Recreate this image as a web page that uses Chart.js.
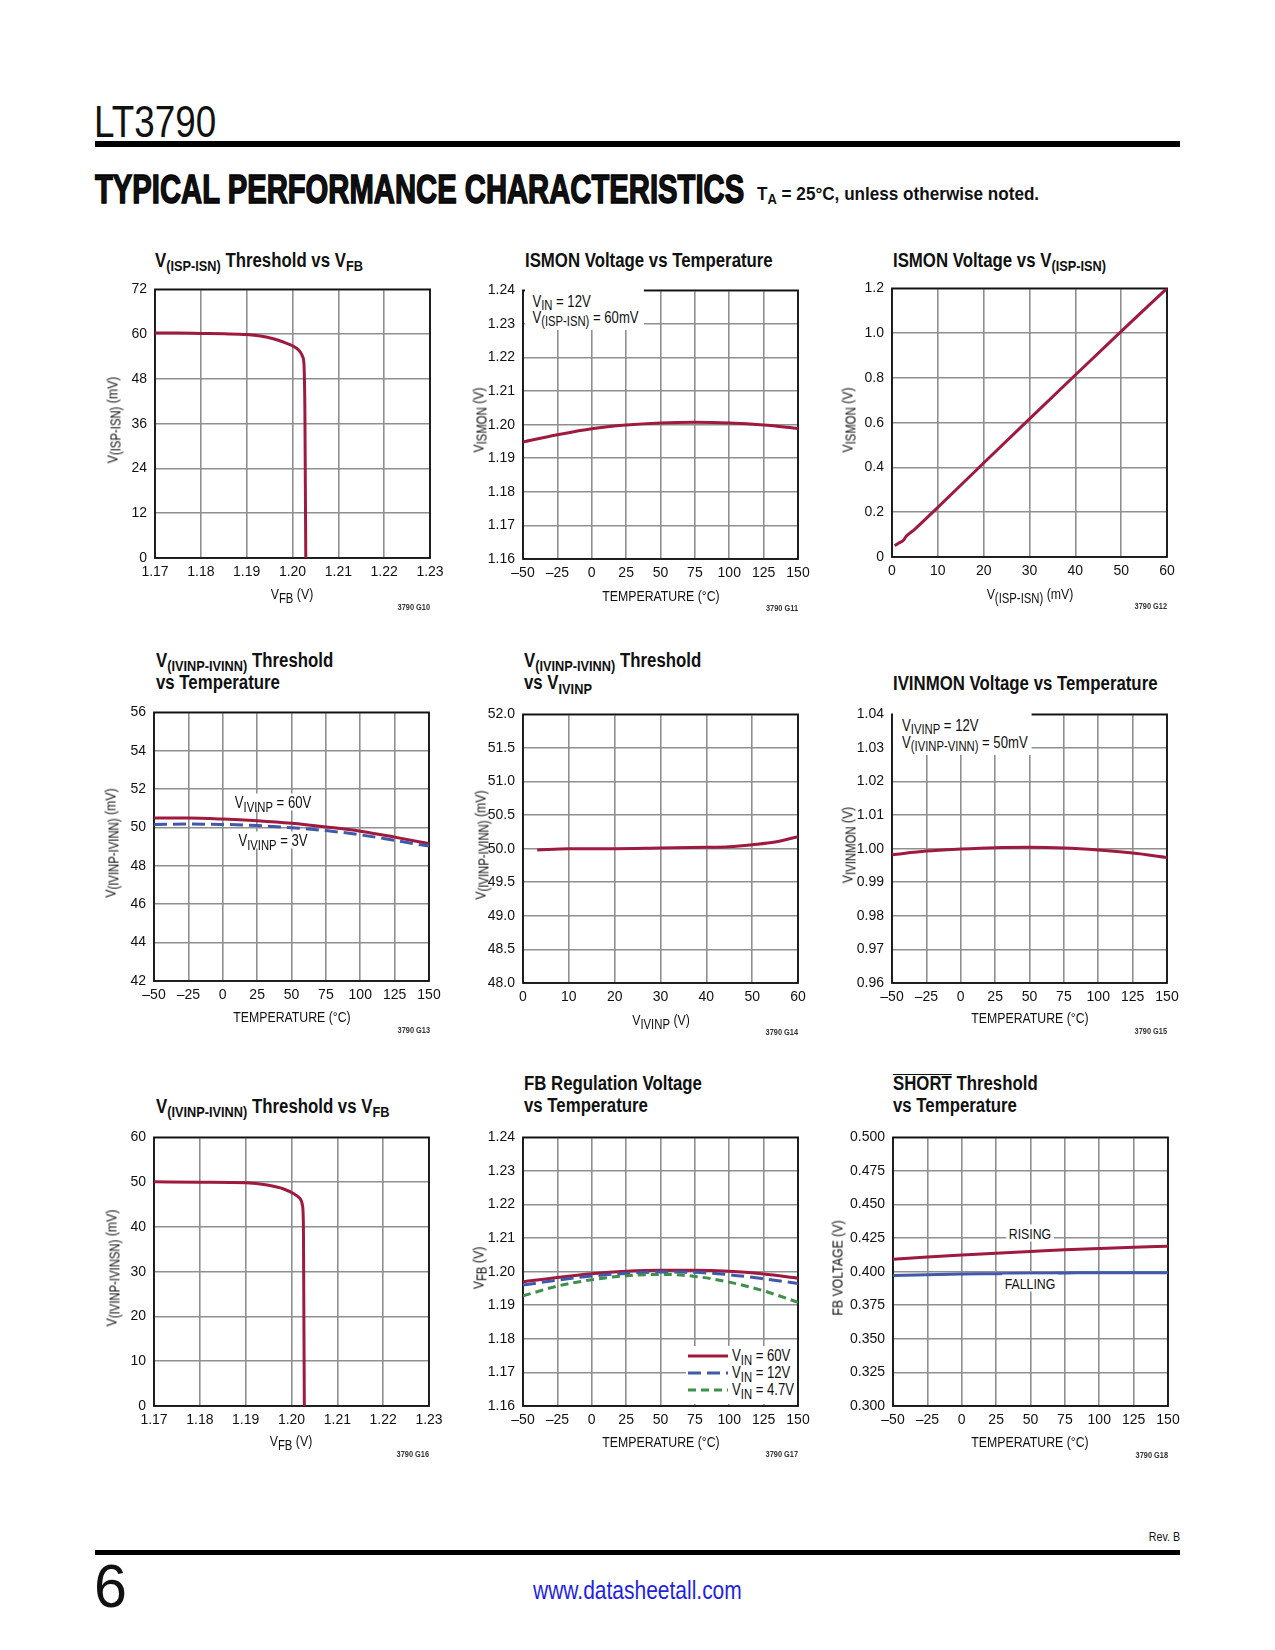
<!DOCTYPE html>
<html><head><meta charset="utf-8">
<script src="https://cdn.jsdelivr.net/npm/chart.js@4.4.1/dist/chart.umd.min.js"></script>
<style>
body{margin:0;background:#fff;}
#page{position:relative;width:1275px;height:1650px;overflow:hidden;font-family:'Liberation Sans',Arial,sans-serif;color:#111;}
.abs{position:absolute;white-space:nowrap;}
canvas{position:absolute;}
sub{font-size:0.76em;vertical-align:baseline;position:relative;top:0.3em;line-height:0;}
.ax sub{font-size:0.92em;top:0.25em;}
.ann sub{font-size:0.86em;top:0.28em;}
.bar{position:absolute;background:#000;}
.wbg{background:#fff;z-index:5;}
.ovl{display:inline-block;border-top:1.6px solid #111;line-height:17px;}
</style></head>
<body><div id="page"></div>
<script>
// ---------------- DATA ----------------
const tempC = [-50,-25,0,25,50,75,100,125,150];
const tempTickLabels = ['\u201350','\u201325','0','25','50','75','100','125','150'];

const vfbTicks = [1.17,1.18,1.19,1.20,1.21,1.22,1.23];
const vfbTickLabels = ['1.17','1.18','1.19','1.20','1.21','1.22','1.23'];

// G10: V(ISP-ISN) threshold vs VFB
const g10Vfb = [1.170,1.175,1.180,1.185,1.190,1.193,1.196,1.198,1.200,1.201,1.2017,1.2022,1.2025,1.2026,1.2027,1.2028,1.2029];
const g10mV  = [60.3,60.3,60.2,60.1,59.9,59.5,58.7,57.9,56.9,56.1,55.2,54.0,52.0,48.0,40.0,20.0,0];
const g10YTicks = [0,12,24,36,48,60,72];
const g10YLabels = ['0','12','24','36','48','60','72'];

// G11: ISMON voltage vs temperature
const g11Vismon = [1.1949,1.1970,1.1988,1.1999,1.2005,1.2007,1.2005,1.1999,1.1989];
const g11YTicks = [1.16,1.17,1.18,1.19,1.20,1.21,1.22,1.23,1.24];
const g11YLabels = ['1.16','1.17','1.18','1.19','1.20','1.21','1.22','1.23','1.24'];

// G12: ISMON voltage vs V(ISP-ISN)
const g12mV = [0.6,1.5,2.5,3.0,3.5,5,10,20,30,40,50,60];
const g12V  = [0.05,0.063,0.075,0.09,0.10,0.125,0.222,0.42,0.617,0.813,1.008,1.2];
const g12XTicks = [0,10,20,30,40,50,60];
const g12XLabels = ['0','10','20','30','40','50','60'];
const g12YTicks = [0,0.2,0.4,0.6,0.8,1.0,1.2];
const g12YLabels = ['0','0.2','0.4','0.6','0.8','1.0','1.2'];

// G13: V(IVINP-IVINN) threshold vs temperature
const g13V60 = [50.49,50.49,50.44,50.35,50.22,50.03,49.81,49.50,49.16];
const g13V3  = [50.16,50.18,50.16,50.10,49.99,49.84,49.62,49.33,49.03];
const g13YTicks = [42,44,46,48,50,52,54,56];
const g13YLabels = ['42','44','46','48','50','52','54','56'];

// G14: V(IVINP-IVINN) threshold vs VIVINP
const g14Vivinp = [3.1,10,20,30,40,45,50,55,60];
const g14mV     = [49.98,50.0,50.0,50.01,50.02,50.03,50.06,50.10,50.18];
const g14XTicks = [0,10,20,30,40,50,60];
const g14XLabels = ['0','10','20','30','40','50','60'];
const g14YTicks = [48,48.5,49,49.5,50,50.5,51,51.5,52];
const g14YLabels = ['48.0','48.5','49.0','49.5','50.0','50.5','51.0','51.5','52.0'];

// G15: IVINMON voltage vs temperature
const g15V = [0.9982,0.9993,0.9999,1.0003,1.0004,1.0002,0.9996,0.9987,0.9974];
const g15YTicks = [0.96,0.97,0.98,0.99,1.00,1.01,1.02,1.03,1.04];
const g15YLabels = ['0.96','0.97','0.98','0.99','1.00','1.01','1.02','1.03','1.04'];

// G16: V(IVINP-IVINN) threshold vs VFB
const g16Vfb = [1.170,1.180,1.190,1.1947,1.1983,1.2005,1.2019,1.2024,1.2026,1.2027,1.2028];
const g16mV  = [50.1,50.0,49.87,49.36,48.48,47.39,46.3,44.8,40,20,0];
const g16YTicks = [0,10,20,30,40,50,60];
const g16YLabels = ['0','10','20','30','40','50','60'];

// G17: FB regulation voltage vs temperature
const g17Vin60  = [1.1970,1.1983,1.1994,1.2001,1.2004,1.2004,1.2001,1.1993,1.1981];
const g17Vin12  = [1.1960,1.1975,1.1987,1.1995,1.1999,1.1998,1.1991,1.1979,1.1965];
const g17Vin4p7 = [1.1928,1.1957,1.1976,1.1988,1.1992,1.1986,1.1969,1.1943,1.1909];
const g17YTicks = g11YTicks;
const g17YLabels = g11YLabels;

// G18: SHORT threshold vs temperature
const g18Rising  = [0.4092,0.4109,0.4124,0.4138,0.4150,0.4163,0.4172,0.4182,0.4189];
const g18Falling = [0.3971,0.3978,0.3983,0.3985,0.3988,0.3990,0.3993,0.3993,0.3993];
const g18YTicks = [0.300,0.325,0.350,0.375,0.400,0.425,0.450,0.475,0.500];
const g18YLabels = ['0.300','0.325','0.350','0.375','0.400','0.425','0.450','0.475','0.500'];

// ---------------- STYLE ----------------
const FAM = "'Liberation Sans',Arial,sans-serif";
const RED = '#9e1a3f', BLUE = '#4159aa', GREEN = '#3f8f4a';
const GRID = '#8f8f8f';
const NARROW = 0.82;
const page = document.getElementById('page');

function text(html, left, baseline, size, opts={}){
  const lh = opts.lh || size;
  const d = document.createElement('div');
  d.className = 'abs' + (opts.cls ? ' '+opts.cls : '');
  d.innerHTML = html;
  d.style.fontSize = size+'px';
  d.style.lineHeight = lh+'px';
  d.style.fontWeight = opts.bold ? 'bold' : (opts.weight || 'normal');
  d.style.left = left+'px';
  d.style.top = (baseline - ((lh - 1.117*size)/2 + 0.905*size))+'px';
  if (opts.color) d.style.color = opts.color;
  const s = opts.scale || NARROW;
  let tf = '';
  if (opts.align === 'right'){ tf = 'translateX(-100%) '; d.style.transformOrigin = 'right center'; }
  else if (opts.align === 'center'){ tf = 'translateX(-50%) '; d.style.transformOrigin = 'center center'; }
  else d.style.transformOrigin = 'left center';
  d.style.transform = tf + 'scaleX(' + s + ')';
  if (opts.style) Object.assign(d.style, opts.style);
  page.appendChild(d);
  return d;
}
function fitW(d, w){
  d.style.transformOrigin = 'left center';
  d.style.transform = 'scaleX(' + (w / d.offsetWidth) + ')';
}
function ytitle(html, cx, cy, size){
  const d = document.createElement('div');
  d.className='abs ax';
  d.innerHTML = html;
  d.style.fontSize = size+'px';
  d.style.lineHeight = size+'px';
  d.style.left = cx+'px'; d.style.top = cy+'px';
  d.style.transform = 'translate(-50%,-50%) rotate(-90deg) scaleX(' + NARROW + ')';
  page.appendChild(d);
}
function box(html, left, top, styles, centered){
  const d = document.createElement('div');
  d.className = 'abs wbg ann';
  d.innerHTML = html;
  d.style.left = left+'px'; d.style.top = top+'px';
  if (centered){ d.style.transform = 'translate(-50%,-50%) scaleX(' + NARROW + ')'; }
  else { d.style.transformOrigin = 'left top'; d.style.transform = 'scaleX(' + NARROW + ')'; }
  Object.assign(d.style, styles||{});
  page.appendChild(d);
  return d;
}
function whiteRect(left, top, w, h){
  const d = document.createElement('div');
  d.className = 'abs wbg';
  Object.assign(d.style, {left:left+'px', top:top+'px', width:w+'px', height:h+'px'});
  page.appendChild(d);
}

const framePlugin = {
  id:'frame',
  beforeDatasetsDraw(c){
    const a = c.chartArea, g = c.ctx;
    g.save(); g.strokeStyle = '#111'; g.lineWidth = 1.8;
    g.strokeRect(a.left, a.top, a.right-a.left, a.bottom-a.top);
    g.restore();
  }
};

const PW = 275, PH = 275, LP = 60, TP = 10, RP = 24, BP = 32;
function axis(min, max, vals, labels, isX){
  return {
    type:'linear', min, max,
    afterBuildTicks: s => { s.ticks = vals.map(v => ({value:v})); },
    afterFit: s => { if (isX) s.height = BP; else s.width = LP; },
    grid:{color:GRID, lineWidth:1.6, drawTicks:false},
    border:{display:false},
    ticks:{autoSkip:false, maxRotation:0, padding: isX ? 6 : 8, color:'#111',
           font:{family:FAM, size:14}, callback:(v,i) => labels[i]}
  };
}
function ds(xs, ys, color, dash){
  return {data: xs.map((x,i) => ({x, y: ys[i]})), showLine:true, borderColor:color,
          borderWidth:3, pointRadius:0, borderDash: dash || [], fill:false,
          cubicInterpolationMode:'monotone'};
}
function chart(L, T, xAx, yAx, datasets){
  const cv = document.createElement('canvas');
  const w = LP + PW + RP, h = TP + PH + BP;
  cv.width = w; cv.height = h;
  cv.style.left = (L - LP)+'px'; cv.style.top = (T - TP)+'px';
  cv.style.width = w+'px'; cv.style.height = h+'px';
  page.appendChild(cv);
  new Chart(cv.getContext('2d'), {
    type:'scatter',
    data:{datasets},
    options:{
      responsive:false, animation:false, devicePixelRatio:1,
      layout:{padding:{left:0, top:TP, right:RP, bottom:0}},
      plugins:{legend:{display:false}, tooltip:{enabled:false}},
      scales:{x:xAx, y:yAx}
    },
    plugins:[framePlugin]
  });
}
function code(t, right, bottom){
  text(t, right, bottom+53, 9, {bold:true, align:'right', color:'#333'});
}
function title(html, left, baseline){
  text(html, left, baseline, 20, {bold:true, lh:22.5, scale:0.84});
}
function xtitle(html, cx, baseline){ text(html, cx, baseline, 15, {align:'center', cls:'ax'}); }

// ---------------- HEADER / FOOTER ----------------
const lt = text('LT3790', 94, 137, 45);
fitW(lt, 122);
const hb = document.createElement('div'); hb.className='bar';
Object.assign(hb.style,{left:'95px',top:'141px',width:'1085px',height:'6px'}); page.appendChild(hb);
const tpc = text('TYPICAL PERFORMANCE CHARACTERISTICS', 95, 203, 40, {bold:true, style:{webkitTextStroke:'1.4px #000'}});
fitW(tpc, 649);
const ta = text('T<sub>A</sub> = 25°C, unless otherwise noted.', 757, 200, 19, {bold:true});
fitW(ta, 282);

text('Rev. B', 1180, 1541, 13, {align:'right'});
const fb = document.createElement('div'); fb.className='bar';
Object.assign(fb.style,{left:'95px',top:'1550px',width:'1085px',height:'5px'}); page.appendChild(fb);
const six = text('6', 94, 1608, 61);
fitW(six, 33);
const url = text('www.datasheetall.com', 533, 1599, 25, {color:'#1f1fe6'});
fitW(url, 209);

// ---------------- ROW 1 ----------------
title('V<sub>(ISP-ISN)</sub> Threshold vs V<sub>FB</sub>', 155, 267);
chart(155, 283, axis(1.17,1.23,vfbTicks,vfbTickLabels,true), axis(0,72,g10YTicks,g10YLabels,false),
  [ds(g10Vfb, g10mV, RED)]);
xtitle('V<sub>FB</sub> (V)', 292, 599);
ytitle('V<sub>(ISP-ISN)</sub> (mV)', 112, 420, 15);
code('3790 G10', 430, 558);

title('ISMON Voltage vs Temperature', 525, 267);
chart(523, 284, axis(-50,150,tempC,tempTickLabels,true), axis(1.16,1.24,g11YTicks,g11YLabels,false),
  [ds(tempC, g11Vismon, RED)]);
xtitle('TEMPERATURE (°C)', 661, 601);
ytitle('V<sub>ISMON</sub> (V)', 478, 420, 15);
code('3790 G11', 798, 559);
box('V<sub>IN</sub> = 12V<br>V<sub>(ISP-ISN)</sub> = 60mV', 524.5, 285.5,
  {fontSize:'16px', lineHeight:'16px', padding:'8px 6px 4px 9px'});

title('ISMON Voltage vs V<sub>(ISP-ISN)</sub>', 893, 267);
chart(892, 282, axis(0,60,g12XTicks,g12XLabels,true), axis(0,1.2,g12YTicks,g12YLabels,false),
  [ds(g12mV, g12V, RED)]);
xtitle('V<sub>(ISP-ISN)</sub> (mV)', 1030, 599);
ytitle('V<sub>ISMON</sub> (V)', 847, 420, 15);
code('3790 G12', 1167, 557);

// ---------------- ROW 2 ----------------
title('V<sub>(IVINP-IVINN)</sub> Threshold<br>vs Temperature', 156, 667);
chart(154, 706, axis(-50,150,tempC,tempTickLabels,true), axis(42,56,g13YTicks,g13YLabels,false),
  [ds(tempC, g13V3, BLUE, [13,6]), ds(tempC, g13V60, RED)]);
xtitle('TEMPERATURE (°C)', 292, 1022);
ytitle('V<sub>(IVINP-IVINN)</sub> (mV)', 110, 843, 15);
code('3790 G13', 430, 981);
box('V<sub>IVINP</sub> = 60V', 273, 802, {fontSize:'16px', lineHeight:'17px', padding:'0 3px'}, true);
box('V<sub>IVINP</sub> = 3V', 273, 840, {fontSize:'16px', lineHeight:'17px', padding:'0 3px'}, true);

title('V<sub>(IVINP-IVINN)</sub> Threshold<br>vs V<sub>IVINP</sub>', 524, 667);
chart(523, 708, axis(0,60,g14XTicks,g14XLabels,true), axis(48,52,g14YTicks,g14YLabels,false),
  [ds(g14Vivinp, g14mV, RED)]);
xtitle('V<sub>IVINP</sub> (V)', 661, 1025);
ytitle('V<sub>(IVINP-IVINN)</sub> (mV)', 480, 845, 15);
code('3790 G14', 798, 983);

title('IVINMON Voltage vs Temperature', 893, 690);
chart(892, 708, axis(-50,150,tempC,tempTickLabels,true), axis(0.96,1.04,g15YTicks,g15YLabels,false),
  [ds(tempC, g15V, RED)]);
xtitle('TEMPERATURE (°C)', 1030, 1023);
ytitle('V<sub>IVINMON</sub> (V)', 847, 845, 15);
code('3790 G15', 1167, 982);
box('V<sub>IVINP</sub> = 12V<br>V<sub>(IVINP-VINN)</sub> = 50mV', 893, 709,
  {fontSize:'16px', lineHeight:'17px', padding:'7.5px 5px 4px 11px'});

// ---------------- ROW 3 ----------------
title('V<sub>(IVINP-IVINN)</sub> Threshold vs V<sub>FB</sub>', 156, 1113);
chart(154, 1131, axis(1.17,1.23,vfbTicks,vfbTickLabels,true), axis(0,60,g16YTicks,g16YLabels,false),
  [ds(g16Vfb, g16mV, RED)]);
xtitle('V<sub>FB</sub> (V)', 291, 1446);
ytitle('V<sub>(IVINP-IVINSN)</sub> (mV)', 111, 1268, 15);
code('3790 G16', 429, 1405);

title('FB Regulation Voltage<br>vs Temperature', 524, 1090);
chart(523, 1131, axis(-50,150,tempC,tempTickLabels,true), axis(1.16,1.24,g17YTicks,g17YLabels,false),
  [ds(tempC, g17Vin4p7, GREEN, [8,5]), ds(tempC, g17Vin12, BLUE, [13,6]), ds(tempC, g17Vin60, RED)]);
xtitle('TEMPERATURE (°C)', 661, 1447);
ytitle('V<sub>FB</sub> (V)', 478, 1268, 15);
code('3790 G17', 798, 1405);
// legend
const legRows = [
  ['V<sub>IN</sub> = 60V', RED, ''],
  ['V<sub>IN</sub> = 12V', BLUE, '13,6'],
  ['V<sub>IN</sub> = 4.7V', GREEN, '8,5']
];
whiteRect(686, 1346, 111, 58);
legRows.forEach((r, i) => {
  const cy = 1356 + i*17;
  const sv = document.createElement('div');
  sv.className = 'abs'; sv.style.zIndex = 6;
  sv.style.left = '688px'; sv.style.top = (cy - 5)+'px';
  sv.innerHTML = '<svg width="40" height="10" style="display:block"><line x1="0" y1="5" x2="40" y2="5" stroke="'+r[1]+'" stroke-width="3" stroke-dasharray="'+r[2]+'"/></svg>';
  page.appendChild(sv);
  text(r[0], 732, cy + 5.5, 16, {cls:'ann', style:{zIndex:6}});
});

title('<span class="ovl">SHORT</span> Threshold<br>vs Temperature', 893, 1090);
chart(893, 1131, axis(-50,150,tempC,tempTickLabels,true), axis(0.3,0.5,g18YTicks,g18YLabels,false),
  [ds(tempC, g18Falling, BLUE), ds(tempC, g18Rising, RED)]);
xtitle('TEMPERATURE (°C)', 1030, 1447);
ytitle('FB VOLTAGE (V)', 837, 1268, 15);
code('3790 G18', 1168, 1406);
box('RISING', 1030, 1233, {fontSize:'15px', lineHeight:'17px', padding:'0 3px'}, true);
box('FALLING', 1030, 1283, {fontSize:'15px', lineHeight:'17px', padding:'0 3px'}, true);
</script>
</body></html>
